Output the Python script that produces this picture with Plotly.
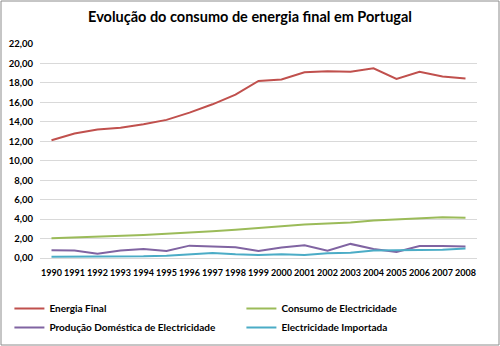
import plotly.graph_objects as go

anos = [str(a) for a in range(1990, 2009)]

energia_final = [12.1, 12.8, 13.2, 13.4, 13.75, 14.2, 14.95, 15.8, 16.8, 18.2,
                 18.35, 19.1, 19.2, 19.15, 19.5, 18.4, 19.15, 18.65, 18.45]
consumo_electricidade = [2.03, 2.1, 2.2, 2.27, 2.37, 2.5, 2.6, 2.74, 2.9, 3.1,
                         3.3, 3.45, 3.55, 3.65, 3.85, 3.95, 4.1, 4.2, 4.15]
producao_domestica = [0.8, 0.76, 0.45, 0.76, 0.93, 0.72, 1.27, 1.17, 1.1, 0.72,
                      1.07, 1.3, 0.76, 1.45, 0.93, 0.62, 1.24, 1.24, 1.17]
electricidade_importada = [0.14, 0.14, 0.2, 0.17, 0.17, 0.24, 0.38, 0.52, 0.38, 0.31,
                           0.38, 0.31, 0.48, 0.55, 0.76, 0.8, 0.8, 0.86, 0.97]

series = [
    ("Energia Final", energia_final, "#C0504D"),
    ("Consumo de Electricidade", consumo_electricidade, "#9BBB59"),
    ("Produção Doméstica de Electricidade", producao_domestica, "#8064A2"),
    ("Electricidade Importada", electricidade_importada, "#4BACC6"),
]

W, H = 500, 346
ML, MR, MT, MB = 40, 23, 44, 88
FONT = "Lato"

fig = go.Figure()
for nome, valores, cor in series:
    fig.add_trace(go.Scatter(x=anos, y=valores, name=nome, mode="lines",
                             line=dict(color=cor, width=2)))

pw = W - ML - MR
ph = H - MT - MB
fig.add_shape(type="rect", xref="paper", yref="paper",
              x0=-(ML - 1) / pw, x1=1 + (MR - 1) / pw,
              y0=-(MB - 1) / ph, y1=1 + (MT - 1) / ph,
              line=dict(color="#8c8c8c", width=1))

fig.update_layout(
    width=W, height=H,
    margin=dict(l=ML, r=MR, t=MT, b=MB, autoexpand=False),
    paper_bgcolor="white", plot_bgcolor="white",
    separators=",.",
    font=dict(family=FONT, color="#000000"),
    title=dict(text="Evolução do consumo de energia final em Portugal",
               x=0.5, xref="container", xanchor="center", y=1 - 17 / H, yanchor="middle",
               font=dict(size=14.5, family=FONT, weight="bold")),
    xaxis=dict(type="category", range=[-0.5, 18.5], showgrid=False, showline=True,
               linecolor="#d9d9d9", tickangle=0, automargin=False,
               tickfont=dict(size=9, family=FONT, weight="bold"), ticks="",
               ticklabelstandoff=6),
    yaxis=dict(range=[0, 22], dtick=2, tickformat=".2f", showgrid=True,
               gridcolor="#d9d9d9", gridwidth=1, zeroline=False, showline=False,
               automargin=False,
               tickfont=dict(size=9.5, family=FONT, weight="bold"), ticks="",
               ticklabelstandoff=6),
    legend=dict(orientation="h", xref="paper", x=-0.07, xanchor="left",
                yref="paper", y=-(294 - (H - MB)) / ph, yanchor="top",
                entrywidth=187, entrywidthmode="pixels",
                font=dict(size=10, family=FONT, weight="bold"), itemwidth=30,
                tracegroupgap=0),
    showlegend=True,
)

fig.write_html("out.html")
